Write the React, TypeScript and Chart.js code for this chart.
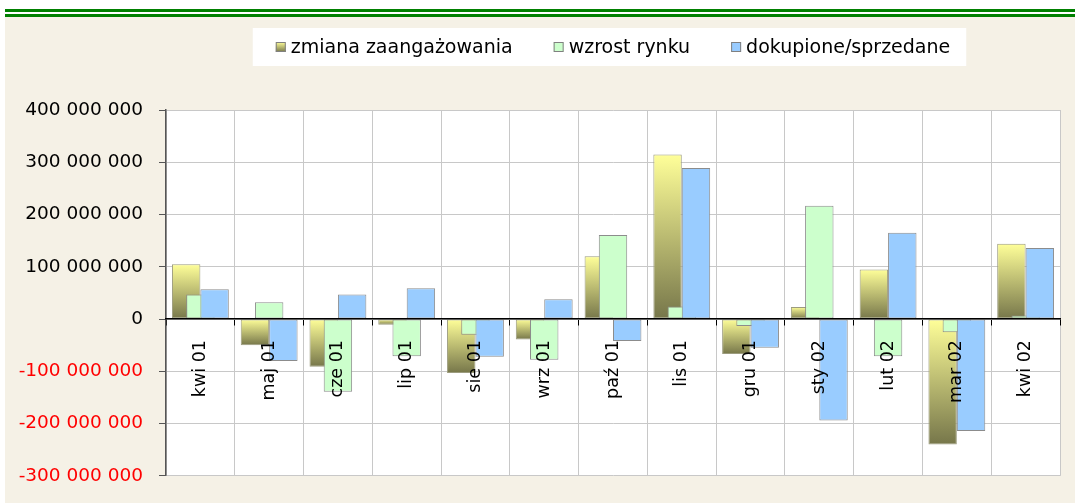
import React, { useEffect, useRef } from 'react';
import { Chart, registerables } from 'chart.js';

Chart.register(...registerables);

const categories = ['kwi 01', 'maj 01', 'cze 01', 'lip 01', 'sie 01', 'wrz 01', 'paź 01', 'lis 01', 'gru 01', 'sty 02', 'lut 02', 'mar 02', 'kwi 02'];
const zmianaZaangazowania = [105e6, -50e6, -91e6, -11e6, -103e6, -39e6, 120e6, 315e6, -67e6, 23e6, 95e6, -240e6, 144e6];
const wzrostRynku = [47e6, 32e6, -139e6, -71e6, -30e6, -78e6, 161e6, 24e6, -13e6, 217e6, -71e6, -25e6, 7e6];
const dokupioneSprzedane = [57e6, -80e6, 47e6, 59e6, -72e6, 38e6, -42e6, 289e6, -55e6, -194e6, 165e6, -214e6, 136e6];
const seriesNames = ['zmiana zaangażowania', 'wzrost rynku', 'dokupione/sprzedane'];
const yMin = -300000000;
const yMax = 400000000;
const yStep = 100000000;

const YELLOW_TOP = '#FFFF99';
const YELLOW_BOTTOM = '#76764A';
const GREEN = '#CCFFCC';
const BLUE = '#99CCFF';
const FONT = 'DejaVu Sans';

const fmt = (v: number) => {
  const s = Math.abs(Math.round(v)).toString().replace(/\B(?=(\d{3})+(?!\d))/g, ' ');
  return (v < 0 ? '-' : '') + s;
};

const yellowFill = (c: any) => {
  const chart = c.chart;
  const ys = chart.scales && chart.scales.y;
  if (!ys || c.type !== 'data' || typeof c.raw !== 'number') return YELLOW_TOP;
  const p0 = ys.getPixelForValue(0);
  const p1 = ys.getPixelForValue(c.raw);
  const top = Math.min(p0, p1);
  const bot = Math.max(p0, p1);
  if (!isFinite(top) || !isFinite(bot) || bot - top < 1) return YELLOW_TOP;
  const g = chart.ctx.createLinearGradient(0, top, 0, bot);
  g.addColorStop(0, YELLOW_TOP);
  g.addColorStop(1, YELLOW_BOTTOM);
  return g;
};

const areaBg = {
  id: 'areaBg',
  beforeDraw(chart: any) {
    const { ctx, chartArea } = chart;
    ctx.save();
    ctx.fillStyle = '#FFFFFF';
    ctx.fillRect(chartArea.left, chartArea.top, chartArea.right - chartArea.left, chartArea.bottom - chartArea.top);
    ctx.restore();
  },
};

const forwardDraw = {
  id: 'forwardDraw',
  beforeDatasetsDraw(chart: any) {
    const { ctx, chartArea } = chart;
    const metas = chart.getSortedVisibleDatasetMetas().slice().sort((a: any, b: any) => a.index - b.index);
    for (const meta of metas) {
      ctx.save();
      ctx.beginPath();
      ctx.rect(chartArea.left, chartArea.top, chartArea.right - chartArea.left, chartArea.bottom - chartArea.top);
      ctx.clip();
      meta.controller.draw();
      ctx.restore();
    }
    return false;
  },
};

const legendPlugin = {
  id: 'customLegend',
  afterDraw(chart: any) {
    const { ctx, chartArea } = chart;
    ctx.save();
    ctx.font = `19px "${FONT}"`;
    const box = 10;
    const gap = 5;
    const spacing = 41;
    const fills = [null, GREEN, BLUE];
    const items = chart.data.datasets.map((d: any) => ({ text: d.label as string, w: ctx.measureText(d.label).width }));
    const total = items.reduce((a: number, it: any) => a + box + gap + it.w, 0) + spacing * (items.length - 1);
    const cx = (chartArea.left + chartArea.right) / 2;
    let x = cx - total / 2;
    const top = 28;
    const bottom = 66;
    ctx.fillStyle = '#FFFFFF';
    ctx.fillRect(x - 23, top, total + 39, bottom - top);
    const baseline = 53;
    const boxTop = 42;
    items.forEach((it: any, i: number) => {
      if (i === 0) {
        const g = ctx.createLinearGradient(0, boxTop, 0, boxTop + box);
        g.addColorStop(0, YELLOW_TOP);
        g.addColorStop(1, YELLOW_BOTTOM);
        ctx.fillStyle = g;
      } else {
        ctx.fillStyle = fills[i];
      }
      ctx.fillRect(x, boxTop, box, box);
      ctx.strokeStyle = '#808080';
      ctx.lineWidth = 1;
      ctx.strokeRect(x + 0.5, boxTop + 0.5, box - 1, box - 1);
      ctx.fillStyle = '#000000';
      ctx.textAlign = 'left';
      ctx.textBaseline = 'alphabetic';
      ctx.fillText(it.text, x + box + gap, baseline);
      x += box + gap + it.w + spacing;
    });
    ctx.restore();
  },
};

export default function App() {
  const canvasRef = useRef<HTMLCanvasElement | null>(null);

  useEffect(() => {
    const canvas = canvasRef.current;
    if (!canvas) return;
    const chart = new Chart(canvas, {
      type: 'bar',
      data: {
        labels: categories,
        datasets: [
          { label: seriesNames[0], data: zmianaZaangazowania, backgroundColor: yellowFill as any, borderColor: '#9C9C7E', borderWidth: 1, borderSkipped: false },
          { label: seriesNames[1], data: wzrostRynku, backgroundColor: GREEN, borderColor: '#8C8C8C', borderWidth: 1, borderSkipped: false },
          { label: seriesNames[2], data: dokupioneSprzedane, backgroundColor: BLUE, borderColor: '#8C8C8C', borderWidth: 1, borderSkipped: false },
        ],
      },
      options: {
        animation: false,
        responsive: true,
        maintainAspectRatio: false,
        layout: { padding: { left: 0, top: 110, right: 15, bottom: 23 } },
        datasets: { bar: { categoryPercentage: 0.62, barPercentage: 2 } },
        plugins: {
          legend: { display: false },
          tooltip: { enabled: false },
        },
        scales: {
          x: {
            type: 'category',
            position: { y: 0 } as any,
            offset: true,
            grid: { color: '#C8C8C8', lineWidth: 1, tickLength: 6, tickColor: '#000000', offset: true, drawTicks: true },
            border: { color: '#000000', width: 1.5, z: 1 } as any,
            ticks: {
              z: 1,
              autoSkip: false,
              minRotation: 90,
              maxRotation: 90,
              padding: 15,
              color: '#000000',
              font: { family: FONT, size: 17.5 },
            },
          },
          y: {
            min: yMin,
            max: yMax,
            grid: { color: '#C8C8C8', lineWidth: 1, tickLength: 7, tickColor: '#555555' },
            border: { color: '#555555', width: 1.5 },
            ticks: {
              stepSize: yStep,
              padding: 16,
              font: { family: FONT, size: 18.5 },
              color: (c: any) => (c.tick && c.tick.value < 0 ? '#FF0000' : '#000000'),
              callback: (v: any) => fmt(Number(v)),
            },
            afterFit: (s: any) => {
              s.width = 166;
            },
          },
        },
      },
      plugins: [areaBg, forwardDraw, legendPlugin],
    });
    return () => chart.destroy();
  }, []);

  return (
    <div style={{ position: 'fixed', left: 0, top: 0, width: 1075, height: 503, background: '#FFFFFF', overflow: 'hidden' }}>
      <div style={{ position: 'absolute', left: 5, right: 0, top: 9, height: 3, background: '#008000' }} />
      <div style={{ position: 'absolute', left: 5, right: 0, top: 14, height: 3, background: '#008000' }} />
      <div style={{ position: 'absolute', left: 5, right: 0, top: 17, bottom: 0, background: '#F5F1E6' }} />
      <div style={{ position: 'absolute', left: 0, top: 0, width: 1075, height: 503 }}>
        <canvas ref={canvasRef} />
      </div>
    </div>
  );
}
